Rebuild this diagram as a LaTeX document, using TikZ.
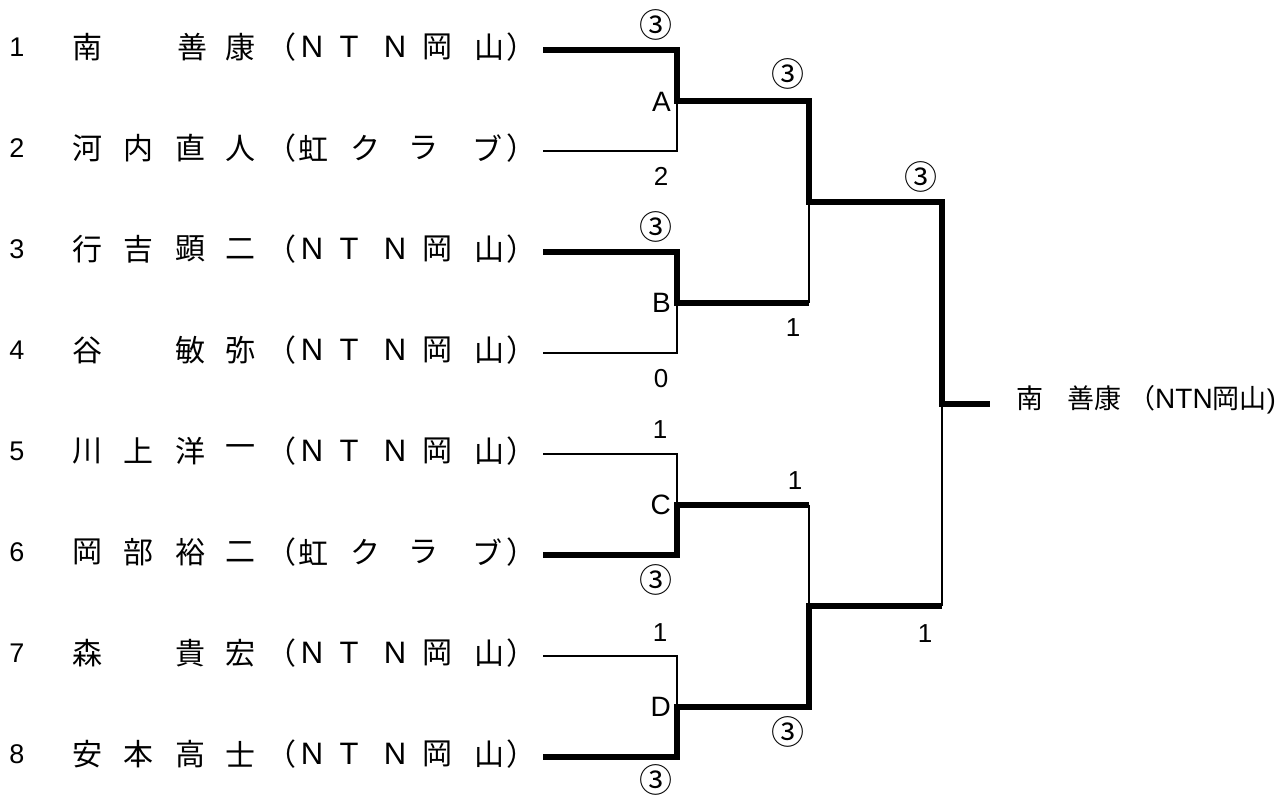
\documentclass[tikz,border=0pt]{standalone}
\usepackage{fontspec}
\newfontfamily\jp{Noto Sans CJK JP}
\newfontfamily\lat{Liberation Sans}
\begin{document}
\begin{tikzpicture}[x=1pt,y=-1pt,
  jt/.style={font=\jp\fontsize{30}{30}\selectfont, inner sep=0pt, anchor=center},
  lt/.style={font=\lat\fontsize{31}{31}\selectfont, inner sep=0pt, anchor=center},
  rownum/.style={font=\lat\fontsize{27}{27}\selectfont, inner sep=0pt},
  score/.style={font=\lat\fontsize{26}{26}\selectfont, inner sep=0pt},
  circled/.style={font=\jp\fontsize{33}{33}\selectfont, inner sep=0pt},
  mlabel/.style={font=\lat\fontsize{28}{28}\selectfont, inner sep=0pt, anchor=east},
  champstyle/.style={font=\jp\fontsize{27}{27}\selectfont, inner sep=0pt, anchor=west},
  winline/.style={line width=6pt, line join=miter},
  loseline/.style={line width=2.4pt, line join=miter}]
\useasboundingbox (0,0) rectangle (1280,796);

% team parts
\def\ntn#1#2{%
  \node[jt] (p#1-o) at (281,#2) {（};
  \node[lt] (p#1-t1) at (312,#2) {N};
  \node[lt] (p#1-t2) at (349,#2) {T};
  \node[lt] (p#1-t3) at (395,#2) {N};
  \node[jt] (p#1-t4) at (437,#2) {岡};
  \node[jt] (p#1-t5) at (489,#2) {山};
  \node[jt] (p#1-c) at (521,#2) {）};}
\def\niji#1#2{%
  \node[jt] (p#1-o) at (281,#2) {（};
  \node[jt] (p#1-t1) at (313,#2) {虹};
  \node[jt] (p#1-t2) at (365,#2) {ク};
  \node[jt] (p#1-t3) at (423,#2) {ラ};
  \node[jt] (p#1-t4) at (487,#2) {ブ};
  \node[jt] (p#1-c) at (521,#2) {）};}

\foreach \i/\y in {1/47,2/148,3/249,4/350,5/451,6/552,7/653,8/754}
  \node[rownum] (num\i) at (17,\y) {\i};

% row 1
\node[jt] (p1-a) at (87,47) {南};
\node[jt] (p1-c3) at (192,47) {善};
\node[jt] (p1-c4) at (240,47) {康};
\ntn{1}{47}
% row 2
\node[jt] (p2-a) at (87,148) {河};
\node[jt] (p2-b) at (138,148) {内};
\node[jt] (p2-c3) at (190,148) {直};
\node[jt] (p2-c4) at (240,148) {人};
\niji{2}{148}
% row 3
\node[jt] (p3-a) at (87,249) {行};
\node[jt] (p3-b) at (138,249) {吉};
\node[jt] (p3-c3) at (190,249) {顕};
\node[jt] (p3-c4) at (240,249) {二};
\ntn{3}{249}
% row 4
\node[jt] (p4-a) at (87,350) {谷};
\node[jt] (p4-c3) at (190,350) {敏};
\node[jt] (p4-c4) at (240,350) {弥};
\ntn{4}{350}
% row 5
\node[jt] (p5-a) at (87,451) {川};
\node[jt] (p5-b) at (138,451) {上};
\node[jt] (p5-c3) at (190,451) {洋};
\node[jt] (p5-c4) at (240,451) {一};
\ntn{5}{451}
% row 6
\node[jt] (p6-a) at (87,552) {岡};
\node[jt] (p6-b) at (138,552) {部};
\node[jt] (p6-c3) at (190,552) {裕};
\node[jt] (p6-c4) at (240,552) {二};
\niji{6}{552}
% row 7
\node[jt] (p7-a) at (87,653) {森};
\node[jt] (p7-c3) at (190,653) {貴};
\node[jt] (p7-c4) at (240,653) {宏};
\ntn{7}{653}
% row 8
\node[jt] (p8-a) at (87,754) {安};
\node[jt] (p8-b) at (138,754) {本};
\node[jt] (p8-c3) at (190,754) {高};
\node[jt] (p8-c4) at (240,754) {士};
\ntn{8}{754}

% ---------- bracket coordinates ----------
\foreach \i/\y in {1/50,2/151,3/252,4/353,5/454,6/555,7/656,8/757}{
  \coordinate (s\i) at (543,\y);
  \coordinate (e\i) at (677,\y);
}
\coordinate (jA) at (677,100.5);
\coordinate (jB) at (677,302.5);
\coordinate (jC) at (677,504.5);
\coordinate (jD) at (677,706.5);
\coordinate (kA) at (809,100.5);
\coordinate (kB) at (809,302.5);
\coordinate (kC) at (809,504.5);
\coordinate (kD) at (809,706.5);
\coordinate (jT) at (809,201.5);
\coordinate (jU) at (809,605.5);
\coordinate (kT) at (942,201.5);
\coordinate (kU) at (942,605.5);
\coordinate (jF) at (942,403.5);
\coordinate (wF) at (990,403.5);

% losers (thin)
\draw[loseline] (s2) -- (e2) -- (jA);
\draw[loseline] (s4) -- (e4) -- (jB);
\draw[loseline] (s5) -- (e5) -- (jC);
\draw[loseline] (s7) -- (e7) -- (jD);
\draw[loseline] (kB) -- (jT);
\draw[loseline] (kC) -- (jU);
\draw[loseline] (kU) -- (jF);

% winners (thick)
\draw[winline] (s1) -- (e1) -- (jA) -- (kA) -- (jT) -- (kT) -- (jF) -- (wF);
\draw[winline] (s3) -- (e3) -- (jB) -- (kB);
\draw[winline] (s6) -- (e6) -- (jC) -- (kC);
\draw[winline] (s8) -- (e8) -- (jD) -- (kD) -- (jU) -- (kU);

% match labels
\node[mlabel] (mA) at (671,102) {A};
\node[mlabel] (mB) at (671,303) {B};
\node[mlabel] (mC) at (671,505) {C};
\node[mlabel] (mD) at (671,707) {D};

% round 1 scores
\node[circled] (r1s1) at (656,25) {③};
\node[score] (r1s2) at (661,176) {2};
\node[circled] (r1s3) at (656,227) {③};
\node[score] (r1s4) at (661,379) {0};
\node[score] (r1s5) at (660,430) {1};
\node[circled] (r1s6) at (656,580) {③};
\node[score] (r1s7) at (660,633) {1};
\node[circled] (r1s8) at (656,780) {③};

% round 2 scores
\node[circled] (r2sA) at (788,74) {③};
\node[score] (r2sB) at (793,328) {1};
\node[score] (r2sC) at (795,481) {1};
\node[circled] (r2sD) at (788,732) {③};

% final scores
\node[circled] (fsT) at (921,177) {③};
\node[score] (fsU) at (925,634) {1};

% champion
\node[champstyle] (champ) at (1016,400) {南\hspace{24pt}善康\hspace{7pt}（{\lat\fontsize{28}{28}\selectfont NTN}岡山{\lat )}};
\end{tikzpicture}
\end{document}
